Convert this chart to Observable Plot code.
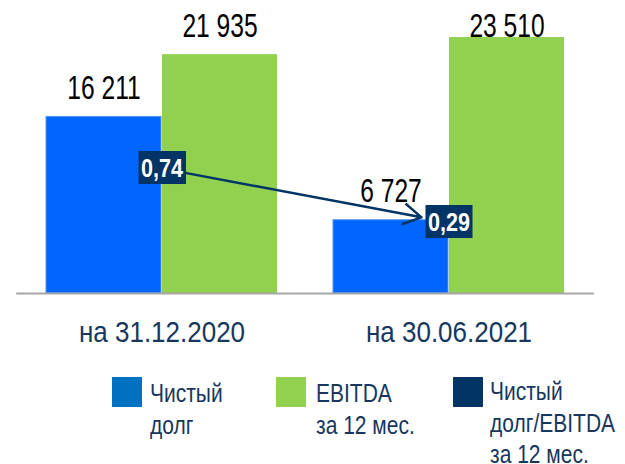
<!DOCTYPE html>
<html><head><meta charset="utf-8">
<script src="https://cdn.jsdelivr.net/npm/d3@7"></script>
<script src="https://cdn.jsdelivr.net/npm/@observablehq/plot@0.6"></script>
<style>
body{margin:0;background:#fff;}
#wrap{position:relative;width:625px;height:464px;overflow:hidden;background:#fff;}
#wrap svg{display:block;}
.legend{position:absolute;left:0;top:360px;width:625px;height:104px;}
.sw{position:absolute;top:17px;width:30px;height:30px;}
.lt{position:absolute;top:17px;font-family:"Liberation Sans",Arial,sans-serif;font-size:21px;line-height:25px;color:#17375e;transform:scaleY(1.26);transform-origin:0 0;white-space:pre;}
</style></head><body><div id="wrap"></div>
<script>
// ---- data ----
const categories = ["на 31.12.2020", "на 30.06.2021"];
const netDebt = [16211, 6727];
const ebitda = [21935, 23510];
const ratio = [0.74, 0.29];
const ratioLabels = ["0,74", "0,29"];
const seriesNames = ["Чистый\nдолг", "EBITDA\nза 12 мес.", "Чистый\nдолг/EBITDA\nза 12 мес."];

// ---- styling ----
const colors = {debt: "#0066ff", ebitda: "#92d050", ratio: "#023466", legendDebt: "#0070c0"};
const navyText = "#17375e";
const sans = "'Liberation Sans',Arial,sans-serif";
const locale = d3.formatLocale({decimal: ",", thousands: "\u00a0", grouping: [3], currency: ["", ""]});
const fmt = locale.format(",");

const debtRows = categories.map((c, i) => ({cat: c, value: netDebt[i]}));
const ebitdaRows = categories.map((c, i) => ({cat: c, value: ebitda[i]}));
const ratioRows = categories.map((c, i) => ({cat: c, ratio: ratio[i], label: ratioLabels[i]}));
const arrowRows = [{from: categories[0], to: categories[1], r1: ratio[0], r2: ratio[1]}];

// secondary (ratio) axis expressed in primary units
const ratioBase = 3324, ratioScale = 11020;
const ry = r => ratioBase + ratioScale * r;
// label placement (outside end, clamped to top of chart area, like Excel)
const labelLift = 2690, labelCeiling = 24567;
const labelY = d => Math.min(d.value + labelLift, labelCeiling);

const chart = Plot.plot({
  width: 625, height: 360,
  marginTop: 37, marginBottom: 67, marginLeft: 16.2, marginRight: 31.2,
  style: {fontFamily: sans, background: "#fff"},
  x: {domain: categories, paddingInner: 0.194, paddingOuter: 0.1},
  y: {domain: [0, 23510], axis: null},
  marks: [
    Plot.barY(debtRows, {x: "cat", y: "value", fill: colors.debt, stroke: "#4f93ff", strokeWidth: 1, insetRight: 116}),
    Plot.barY(ebitdaRows, {x: "cat", y: "value", fill: colors.ebitda, insetLeft: 116}),
    Plot.ruleY([0], {stroke: "#a6a6a6", strokeWidth: 2}),
    Plot.axisX({tickSize: 0, tickPadding: 27, fontSize: 26, color: navyText, className: "cat-axis"}),
    Plot.text(debtRows, {x: "cat", y: labelY, text: d => fmt(d.value), dx: -58, fontSize: 30, fill: "#000", lineAnchor: "middle", className: "vlab"}),
    Plot.text(ebitdaRows, {x: "cat", y: labelY, text: d => fmt(d.value), dx: 58, fontSize: 30, fill: "#000", lineAnchor: "middle", className: "vlab"}),
    Plot.arrow(arrowRows, {x1: "from", y1: d => ry(d.r1), x2: "to", y2: d => ry(d.r2), stroke: colors.ratio, strokeWidth: 2.5, headLength: 12, insetStart: 25, insetEnd: 28}),
    Plot.text(ratioRows, {x: "cat", y: d => ry(d.ratio), text: "label", fontSize: 26, fontWeight: "bold", fill: "#fff", lineAnchor: "middle", className: "rlab"})
  ]
});

const wrap = document.getElementById("wrap");
wrap.append(chart);

const NS = "http://www.w3.org/2000/svg";
const num = v => { const n = parseFloat(v); return v && !String(v).endsWith("em") && isFinite(n) ? n : 0; };

// condensed/stretched glyphs, as in the reference (scaled about each text's anchor)
function reshape(sel, kx, ky) {
  chart.querySelectorAll(sel).forEach(t => {
    const x = num(t.getAttribute("x"));
    const tr = t.getAttribute("transform") || "";
    t.setAttribute("transform", `${tr} translate(${x},0) scale(${kx},${ky}) translate(${-x},0)`);
  });
}

// ratio label boxes
chart.querySelectorAll(".rlab text").forEach(t => {
  const b = t.getBBox();
  const kx = 0.83;
  const w = b.width * kx + 5;
  const cx = b.x + b.width / 2;
  const r = document.createElementNS(NS, "rect");
  r.setAttribute("x", cx - w / 2);
  r.setAttribute("width", w);
  r.setAttribute("y", -17.5);
  r.setAttribute("height", 33);
  r.setAttribute("fill", colors.ratio);
  if (t.getAttribute("transform")) r.setAttribute("transform", t.getAttribute("transform"));
  t.parentNode.insertBefore(r, t);
});
reshape(".rlab text", 0.83, 1.02);
reshape(".vlab text", 0.82, 1.13);
reshape(".cat-axis text", 1.0, 1.17);

// legend
const legend = document.createElement("div");
legend.className = "legend";
const swatches = [colors.legendDebt, colors.ebitda, colors.ratio];
const swX = [112, 276, 453], txX = [150, 316, 490], txTop = [17, 17, 15];
seriesNames.forEach((name, i) => {
  const s = document.createElement("div");
  s.className = "sw"; s.style.left = swX[i] + "px"; s.style.background = swatches[i];
  const t = document.createElement("div");
  t.className = "lt"; t.style.left = txX[i] + "px"; t.style.top = txTop[i] + "px"; t.textContent = name;
  legend.append(s, t);
});
wrap.append(legend);
</script></body></html>
